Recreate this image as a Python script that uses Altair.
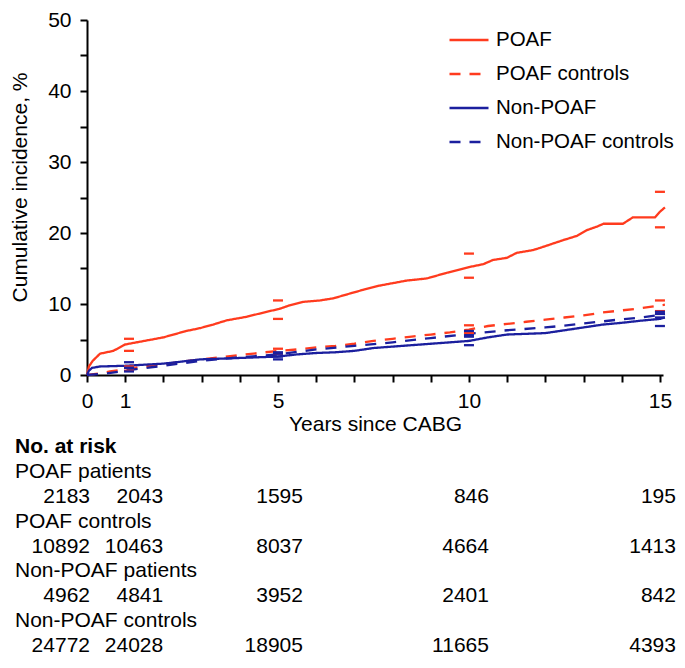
import altair as alt
import pandas as pd

FONT = "Liberation Sans"

groups = ["POAF", "POAF controls", "Non-POAF", "Non-POAF controls"]
colors = ["#FF3B1E", "#FF3B1E", "#1B1F9E", "#1B1F9E"]
dashes = [[1, 0], [11, 9], [1, 0], [11, 9]]

# Cumulative incidence curves (years, %)
poaf_t = [0, 0.05, 0.15, 0.34, 0.69, 1.0, 1.5, 2.0, 2.6, 2.96, 3.3, 3.66, 4.18, 4.7, 5.03,
          5.3, 5.66, 6.1, 6.45, 6.9, 7.23, 7.67, 8.37, 8.9, 9.42, 10.0, 10.37, 10.63, 10.99,
          11.25, 11.68, 11.86, 12.47, 12.83, 13.09, 13.35, 13.52, 14.03, 14.29, 14.87, 15.0, 15.13]
poaf_v = [0, 1.2, 2.0, 3.0, 3.4, 4.3, 4.8, 5.3, 6.2, 6.6, 7.1, 7.7, 8.2, 8.9, 9.3,
          9.8, 10.3, 10.5, 10.8, 11.5, 12.0, 12.6, 13.3, 13.6, 14.4, 15.2, 15.6, 16.2, 16.5,
          17.2, 17.6, 17.9, 19.0, 19.6, 20.4, 20.9, 21.3, 21.3, 22.2, 22.2, 23.0, 23.6]

poafc_t = [0, 0.3, 0.6, 1.1, 1.5, 2, 2.5, 3, 3.5, 4, 4.5, 5, 5.5, 6, 6.5, 7, 7.5, 8, 8.5, 9,
           9.5, 10, 10.5, 11, 11.5, 12, 12.5, 13, 13.5, 14, 14.5, 15, 15.13]
poafc_v = [0, 0.2, 0.5, 0.9, 1.2, 1.5, 1.9, 2.2, 2.5, 2.8, 3.1, 3.4, 3.6, 3.9, 4.1, 4.4, 4.8,
           5.1, 5.4, 5.7, 6.0, 6.4, 6.9, 7.2, 7.5, 7.8, 8.1, 8.4, 8.8, 9.1, 9.4, 9.8, 9.9]

nonpoaf_t = [0, 0.05, 0.13, 0.34, 1.0, 1.5, 2.0, 2.5, 2.96, 3.5, 4, 4.5, 5, 5.5, 6, 6.5, 7,
             7.5, 8, 8.5, 9, 9.5, 10, 10.5, 11, 11.5, 12, 12.5, 13, 13.5, 14, 14.5, 15, 15.13]
nonpoaf_v = [0, 0.6, 1.0, 1.2, 1.3, 1.45, 1.6, 1.9, 2.2, 2.3, 2.4, 2.5, 2.6, 2.9, 3.1, 3.2, 3.4,
             3.8, 4.0, 4.2, 4.4, 4.6, 4.8, 5.3, 5.7, 5.8, 5.9, 6.3, 6.7, 7.1, 7.35, 7.65, 7.9, 8.1]

nonpoafc_t = [0, 0.5, 1.1, 2, 3, 4, 5, 6, 7, 8, 9, 10, 11, 12, 12.5, 13, 13.5, 14, 14.5, 15, 15.13]
nonpoafc_v = [0, 0.2, 0.7, 1.3, 2.0, 2.5, 2.9, 3.6, 4.1, 4.6, 5.2, 5.8, 6.3, 6.7, 6.95, 7.25,
              7.55, 7.85, 8.1, 8.45, 8.6]

# Confidence-interval marks
ci_t = [1.1, 5, 10, 15]
poaf_lo = [3.4, 7.9, 13.7, 20.8]
poaf_hi = [5.1, 10.5, 17.1, 25.8]
poafc_lo = [0.6, 3.0, 5.9, 9.0]
poafc_hi = [1.2, 3.7, 7.0, 10.5]
nonpoaf_lo = [1.0, 2.2, 4.2, 6.9]
nonpoaf_hi = [1.8, 3.0, 5.6, 8.6]
nonpoafc_lo = [0.5, 2.6, 5.4, 8.1]
nonpoafc_hi = [1.0, 3.2, 6.2, 8.9]

# Number at risk table
risk_years = [0, 1, 5, 10, 15]
risk_title = "No. at risk"
risk_labels = ["POAF patients", "POAF controls", "Non-POAF patients", "Non-POAF controls"]
risk_counts = [
    [2183, 2043, 1595, 846, 195],
    [10892, 10463, 8037, 4664, 1413],
    [4962, 4841, 3952, 2401, 842],
    [24772, 24028, 18905, 11665, 4393],
]

# ---- build tables ----
curve_rows = []
for g, ts, vs in zip(groups, [poaf_t, poafc_t, nonpoaf_t, nonpoafc_t],
                     [poaf_v, poafc_v, nonpoaf_v, nonpoafc_v]):
    for t, v in zip(ts, vs):
        curve_rows.append({"group": g, "t": t, "v": v})
curves = pd.DataFrame(curve_rows)

ci_rows = []
for g, lo, hi in zip(groups, [poaf_lo, poafc_lo, nonpoaf_lo, nonpoafc_lo],
                     [poaf_hi, poafc_hi, nonpoaf_hi, nonpoafc_hi]):
    for t, a, b in zip(ci_t, lo, hi):
        ci_rows.append({"group": g, "t": t, "v": a})
        ci_rows.append({"group": g, "t": t, "v": b})
cis = pd.DataFrame(ci_rows)

title_df = pd.DataFrame([{"row": 0, "text": risk_title}])
label_df = pd.DataFrame([{"row": 1 + 2 * i, "text": s} for i, s in enumerate(risk_labels)])
num_rows = []
for i, counts in enumerate(risk_counts):
    for j, (yr, c) in enumerate(zip(risk_years, counts)):
        num_rows.append({"row": 2 + 2 * i, "t": yr, "col": j, "text": str(c)})
num_df = pd.DataFrame(num_rows)

# ---- scales / axes ----
xscale = alt.Scale(domain=[0, 15.08], nice=False, zero=False)
xaxis = alt.Axis(
    values=list(range(16)),
    labelExpr="indexof([0,1,5,10,15], datum.value) >= 0 ? datum.label : ''",
    title="Years since CABG",
    labelFlush=False,
    labelOverlap=False,
    labelPadding=8,
    titlePadding=2,
)
yscale = alt.Scale(domain=[0, 50], nice=False)
yaxis = alt.Axis(
    values=list(range(0, 51, 5)),
    labelExpr="datum.value % 10 == 0 ? datum.label : ''",
    title="Cumulative incidence, %",
    labelPadding=9,
    titlePadding=17,
    titleY=167,
)
legend = alt.Legend(
    title=None,
    orient="none",
    legendX=361,
    legendY=-1,
    symbolType="stroke",
    symbolSize=1521,
    symbolStrokeWidth=2.5,
    labelFontSize=20.5,
    labelFont=FONT,
    labelColor="black",
    labelOffset=6,
    labelLimit=400,
    rowPadding=2,
    padding=0,
)
color = alt.Color("group:N", scale=alt.Scale(domain=groups, range=colors), legend=legend)
dash = alt.StrokeDash("group:N", scale=alt.Scale(domain=groups, range=dashes), legend=legend)

X = alt.X("t:Q", scale=xscale, axis=xaxis)
Y = alt.Y("v:Q", scale=yscale, axis=yaxis)

lines = alt.Chart(curves).mark_line(strokeWidth=2.3).encode(
    x=X, y=Y, color=color, strokeDash=dash, order="t:Q"
)
ticks = alt.Chart(cis).mark_tick(orient="horizontal", size=10, thickness=2.3, opacity=1).encode(
    x=X, y=Y,
    color=alt.Color("group:N", scale=alt.Scale(domain=groups, range=colors), legend=None),
)
main = alt.layer(lines, ticks)

rowscale = alt.Scale(type="point", domain=list(range(9)), range=[427, 626], padding=0)
RY = alt.Y("row:O", scale=rowscale, axis=None)

txt = dict(baseline="middle", fontSize=21, font=FONT, color="black")
title_layer = alt.Chart(title_df).mark_text(align="left", fontWeight="bold", **txt).encode(
    x=alt.value(-72), y=RY, text="text:N")
label_layer = alt.Chart(label_df).mark_text(align="left", **txt).encode(
    x=alt.value(-72), y=RY, text="text:N")

col_dx = [3, 38, 25, 20, 16]
num_layers = []
for j, dx in enumerate(col_dx):
    num_layers.append(
        alt.Chart(num_df[num_df["col"] == j]).mark_text(align="right", dx=dx, **txt).encode(
            x=X, y=RY, text="text:N")
    )
table = alt.layer(title_layer, label_layer, *num_layers)

chart = alt.layer(main, table).resolve_scale(y="independent").properties(
    width=576,
    height=355,
    autosize=alt.AutoSizeParams(type="none"),
    padding={"left": 79, "top": 12, "right": 14, "bottom": 285},
).configure_view(stroke=None).configure_axis(
    grid=False,
    domainColor="black",
    domainWidth=2,
    tickColor="black",
    tickWidth=2,
    tickSize=7,
    labelFont=FONT,
    labelFontSize=21,
    labelColor="black",
    titleFont=FONT,
    titleFontSize=21,
    titleFontWeight="normal",
    titleColor="black",
)

chart.save("out.html", embed_options={"renderer": "svg", "actions": False})
